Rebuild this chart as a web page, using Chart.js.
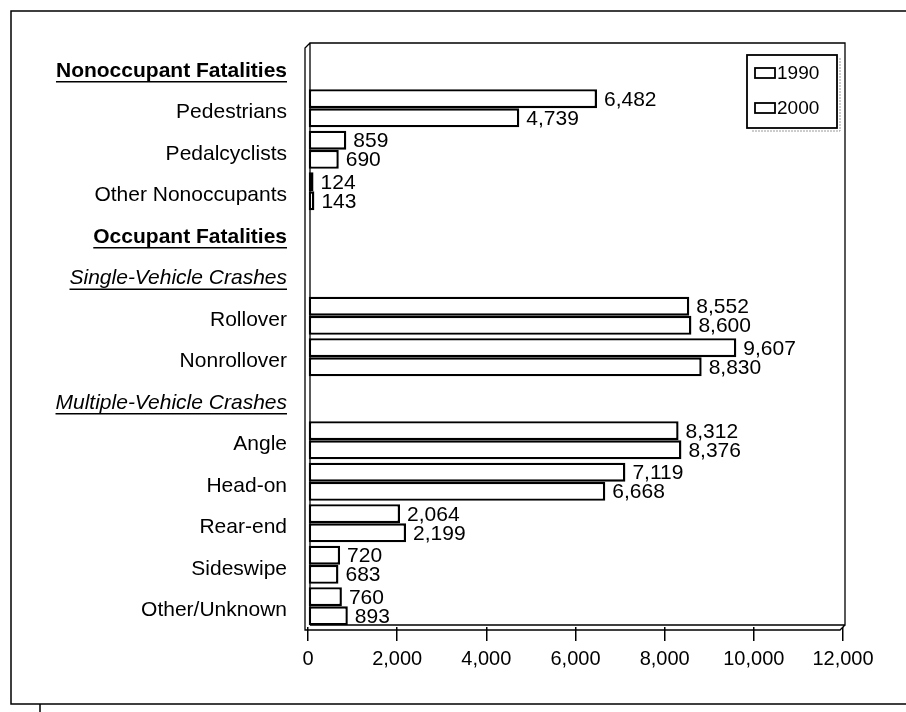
<!DOCTYPE html>
<html>
<head>
<meta charset="utf-8">
<script src="https://cdn.jsdelivr.net/npm/chart.js@4.4.1/dist/chart.umd.min.js"></script>
<style>
  html, body { margin: 0; padding: 0; background: #fff; }
  canvas { display: block; }
</style>
</head>
<body>
<canvas id="fatalities-chart" width="906" height="712"></canvas>
<script>
const categories = ["Nonoccupant Fatalities", "Pedestrians", "Pedalcyclists", "Other Nonoccupants",
    "Occupant Fatalities", "Single-Vehicle Crashes", "Rollover", "Nonrollover",
    "Multiple-Vehicle Crashes", "Angle", "Head-on", "Rear-end", "Sideswipe", "Other/Unknown"];
const fatalities_1990 = [null, 6482, 859, 124, null, null, 8552, 9607, null, 8312, 7119, 2064, 720, 760];
const fatalities_2000 = [null, 4739, 690, 143, null, null, 8600, 8830, null, 8376, 6668, 2199, 683, 893];
const series_names = ["1990", "2000"];
const x_min = 0;
const x_max = 12000;
const x_step = 2000;
const bold_rows = [0, 4];
const italic_rows = [5, 8];

const FONT = "'Liberation Sans', Arial, Helvetica, sans-serif";

// outer frame of the figure
const framePlugin = {
    id: 'frame',
    beforeDraw(chart) {
        const ctx = chart.ctx;
        ctx.save();
        ctx.fillStyle = '#fff';
        ctx.fillRect(0, 0, chart.width, chart.height);
        ctx.strokeStyle = '#000';
        ctx.lineWidth = 1.5;
        ctx.beginPath();
        ctx.moveTo(906, 11); ctx.lineTo(11, 11); ctx.lineTo(11, 704); ctx.lineTo(906, 704);
        ctx.moveTo(40, 704); ctx.lineTo(40, 712);
        ctx.stroke();
        ctx.restore();
    }
};

// plot box with a small 3d depth, like the printed figure
const boxPlugin = {
    id: 'box3d',
    beforeDatasetsDraw(chart) {
        const {ctx, chartArea: a} = chart;
        const d = 5;
        ctx.save();
        ctx.strokeStyle = '#000';
        ctx.lineWidth = 1.3;
        ctx.beginPath();
        // back wall
        ctx.moveTo(a.left + 2, a.bottom - 2);
        ctx.lineTo(a.left + 2, a.top - 3);
        ctx.lineTo(a.right + 2, a.top - 3);
        ctx.lineTo(a.right + 2, a.bottom - 2);
        ctx.lineTo(a.left + 2, a.bottom - 2);
        // front edges
        ctx.moveTo(a.left + 2, a.top - 3);
        ctx.lineTo(a.left + 2 - d, a.top - 3 + d);
        ctx.lineTo(a.left + 2 - d, a.bottom - 2 + d);
        ctx.lineTo(a.right + 2 - d, a.bottom - 2 + d);
        ctx.lineTo(a.right + 2, a.bottom - 2);
        ctx.stroke();
        ctx.restore();
    }
};

// value labels to the right of each bar
const valuePlugin = {
    id: 'valueLabels',
    afterDatasetsDraw(chart) {
        const ctx = chart.ctx;
        ctx.save();
        ctx.font = '21px ' + FONT;
        ctx.fillStyle = '#000';
        ctx.textAlign = 'left';
        ctx.textBaseline = 'middle';
        chart.data.datasets.forEach((ds, di) => {
            const meta = chart.getDatasetMeta(di);
            meta.data.forEach((bar, i) => {
                const v = ds.data[i];
                if (v == null) return;
                ctx.fillText(v.toLocaleString('en-US'), bar.x + 7, bar.y + 1);
            });
        });
        ctx.restore();
    }
};

// underline under the group headings on the category axis
const underlinePlugin = {
    id: 'underline',
    afterDraw(chart) {
        const ctx = chart.ctx;
        const scale = chart.scales.y;
        const right = scale.right - 21;
        ctx.save();
        ctx.strokeStyle = '#000';
        ctx.lineWidth = 1.3;
        bold_rows.concat(italic_rows).forEach(i => {
            ctx.font = (bold_rows.includes(i) ? 'bold ' : 'italic ') + '21px ' + FONT;
            const w = ctx.measureText(categories[i]).width;
            const y = scale.getPixelForTick(i) + 15;
            ctx.beginPath();
            ctx.moveTo(right - w, y);
            ctx.lineTo(right, y);
            ctx.stroke();
        });
        ctx.restore();
    }
};

// boxed legend inside the plot area
const legendPlugin = {
    id: 'legendBox',
    afterDraw(chart) {
        const {ctx, chartArea: a} = chart;
        const lw = 90, lh = 73;
        const lx = a.right - 6 - lw, ly = a.top + 9;
        ctx.save();
        ctx.strokeStyle = '#999';
        ctx.lineWidth = 1;
        ctx.setLineDash([2, 1]);
        ctx.beginPath();
        ctx.moveTo(lx + lw + 3, ly + 3); ctx.lineTo(lx + lw + 3, ly + lh + 3); ctx.lineTo(lx + 4, ly + lh + 3);
        ctx.stroke();
        ctx.setLineDash([]);
        ctx.strokeStyle = '#000';
        ctx.lineWidth = 1.8;
        ctx.strokeRect(lx, ly, lw, lh);
        ctx.font = '19px ' + FONT;
        ctx.fillStyle = '#000';
        ctx.textBaseline = 'middle';
        chart.data.datasets.forEach((ds, i) => {
            const cy = ly + 18 + i * 35;
            ctx.fillStyle = '#fff';
            ctx.fillRect(lx + 8, cy - 5, 20, 10);
            ctx.strokeRect(lx + 8, cy - 5, 20, 10);
            ctx.fillStyle = '#000';
            ctx.fillText(ds.label, lx + 30, cy + 1);
        });
        ctx.restore();
    }
};

let data = {
    labels: categories,
    datasets: [{
        label: series_names[0],
        data: fatalities_1990,
        backgroundColor: '#fff',
        borderColor: '#000',
        borderWidth: 2.4,
        borderSkipped: false,
        barPercentage: 1,
        categoryPercentage: 0.92
    }, {
        label: series_names[1],
        data: fatalities_2000,
        backgroundColor: '#fff',
        borderColor: '#000',
        borderWidth: 2.4,
        borderSkipped: false,
        barPercentage: 1,
        categoryPercentage: 0.92
    }]
};

let config = {
    type: 'bar',
    data: data,
    options: {
        indexAxis: 'y',
        responsive: false,
        animation: false,
        events: [],
        layout: { padding: { top: 46, right: 63, left: 0, bottom: 0 } },
        plugins: {
            legend: { display: false },
            tooltip: { enabled: false }
        },
        scales: {
            x: {
                min: x_min,
                max: x_max,
                afterFit: (scale) => { scale.height = 85; },
                border: { display: false },
                grid: { drawOnChartArea: false, drawTicks: true, tickLength: 14, color: '#000', lineWidth: 1.5 },
                ticks: {
                    stepSize: x_step,
                    color: '#000',
                    padding: 6,
                    font: { family: FONT, size: 20 },
                    callback: (v) => v.toLocaleString('en-US')
                }
            },
            y: {
                afterFit: (scale) => { scale.width = 308; },
                border: { display: false },
                grid: { display: false, drawTicks: false },
                ticks: {
                    color: '#000',
                    padding: 21,
                    labelOffset: 4,
                    autoSkip: false,
                    font: (c) => ({
                        family: FONT,
                        size: 21,
                        weight: bold_rows.includes(c.index) ? 'bold' : 'normal',
                        style: italic_rows.includes(c.index) ? 'italic' : 'normal'
                    })
                }
            }
        }
    },
    plugins: [framePlugin, boxPlugin, valuePlugin, underlinePlugin, legendPlugin]
};

let fatalities_chart = new Chart(document.getElementById("fatalities-chart"), config);
</script>
</body>
</html>
